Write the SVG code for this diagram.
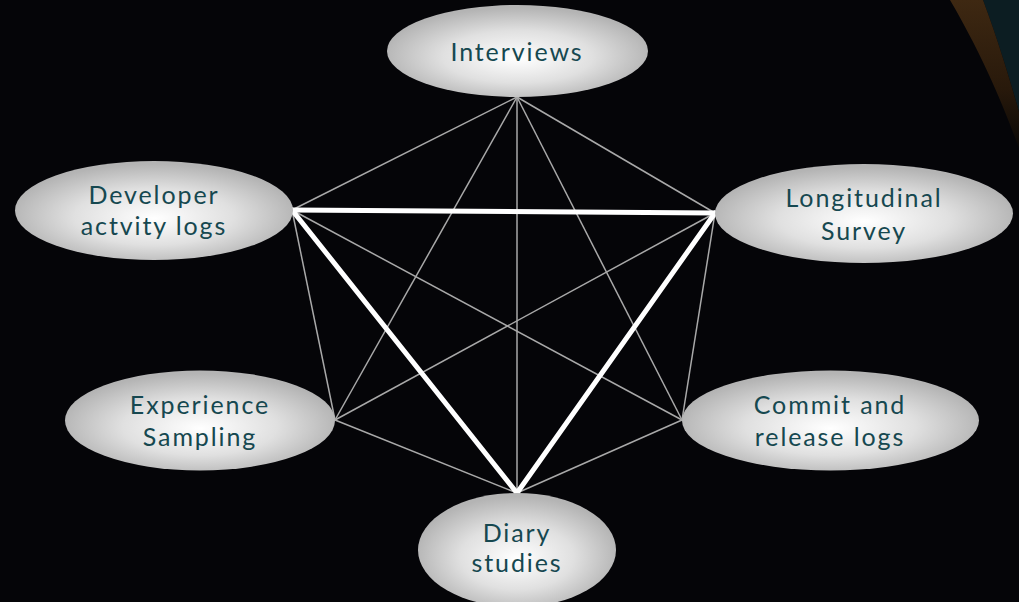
<svg xmlns="http://www.w3.org/2000/svg" width="1019" height="602" viewBox="0 0 1019 602">
  <defs>
    <radialGradient id="nodeFill" cx="50%" cy="55%" r="52%" fx="50%" fy="58%">
      <stop offset="0" stop-color="#ffffff"/>
      <stop offset="0.55" stop-color="#e0e0e0"/>
      <stop offset="1" stop-color="#b4b4b4"/>
    </radialGradient>
    <linearGradient id="bandFill" x1="0" y1="0" x2="0" y2="1">
      <stop offset="0" stop-color="#3e2812"/>
      <stop offset="0.6" stop-color="#28190b"/>
      <stop offset="1" stop-color="#0a0806"/>
    </linearGradient>
    <style>
      .edge { stroke: #a9a9a9; stroke-width: 1.5; fill: none; }
      .edge-strong { stroke: #ffffff; stroke-width: 5; fill: none; stroke-linecap: round; }
      .node ellipse { fill: url(#nodeFill); }
      .node text { font-family: Lato, "Open Sans", "Liberation Sans", sans-serif; font-size: 25px; fill: #164850; text-anchor: middle; letter-spacing: 1.9px; }
    </style>
  </defs>

  <!-- backdrop -->
  <rect width="1019" height="602" fill="#050508"/>

  <!-- corner decoration: dark panel edge with a bronze rim -->
  <path d="M983,0 L1019,0 L1019,112 C1010,80 998,40 983,0 Z" fill="#0c1d22"/>
  <path d="M950,0 L983,0 C998,40 1010,80 1019,112 L1019,148 C1005,110 985,60 950,0 Z" fill="url(#bandFill)"/>

  <!-- connectors -->
  <g id="connectors">
    <line class="edge" x1="517" y1="97" x2="292" y2="210"/>
    <line class="edge" x1="517" y1="97" x2="715" y2="213"/>
    <line class="edge" x1="517" y1="97" x2="335" y2="420"/>
    <line class="edge" x1="517" y1="97" x2="682" y2="420"/>
    <line class="edge" x1="517" y1="97" x2="517" y2="493"/>
    <line class="edge" x1="292" y1="210" x2="335" y2="420"/>
    <line class="edge" x1="292" y1="210" x2="682" y2="420"/>
    <line class="edge" x1="715" y1="213" x2="335" y2="420"/>
    <line class="edge" x1="715" y1="213" x2="682" y2="420"/>
    <line class="edge" x1="335" y1="420" x2="517" y2="493"/>
    <line class="edge" x1="682" y1="420" x2="517" y2="493"/>
    <line class="edge-strong" x1="292" y1="210" x2="715" y2="213"/>
    <line class="edge-strong" x1="292" y1="210" x2="517" y2="493"/>
    <line class="edge-strong" x1="715" y1="213" x2="517" y2="493"/>
  </g>

  <!-- nodes -->
  <g id="interviews" class="node">
    <ellipse cx="517.5" cy="51" rx="130.5" ry="46"/>
    <text x="517" y="61">Interviews</text>
  </g>
  <g id="developer-logs" class="node">
    <ellipse cx="154" cy="210.5" rx="139" ry="49.5"/>
    <text x="154" y="204">Developer</text>
    <text x="154" y="235">actvity logs</text>
  </g>
  <g id="longitudinal-survey" class="node">
    <ellipse cx="864" cy="213.5" rx="149" ry="49.5"/>
    <text x="864" y="207">Longitudinal</text>
    <text x="864" y="240">Survey</text>
  </g>
  <g id="experience-sampling" class="node">
    <ellipse cx="200" cy="420.5" rx="135" ry="50"/>
    <text x="200" y="414">Experience</text>
    <text x="200" y="446">Sampling</text>
  </g>
  <g id="commit-release-logs" class="node">
    <ellipse cx="830.5" cy="420.5" rx="148.5" ry="50"/>
    <text x="830" y="414">Commit and</text>
    <text x="830" y="446">release logs</text>
  </g>
  <g id="diary-studies" class="node">
    <ellipse cx="517" cy="550" rx="99" ry="57"/>
    <text x="517" y="542">Diary</text>
    <text x="517" y="572">studies</text>
  </g>
</svg>
